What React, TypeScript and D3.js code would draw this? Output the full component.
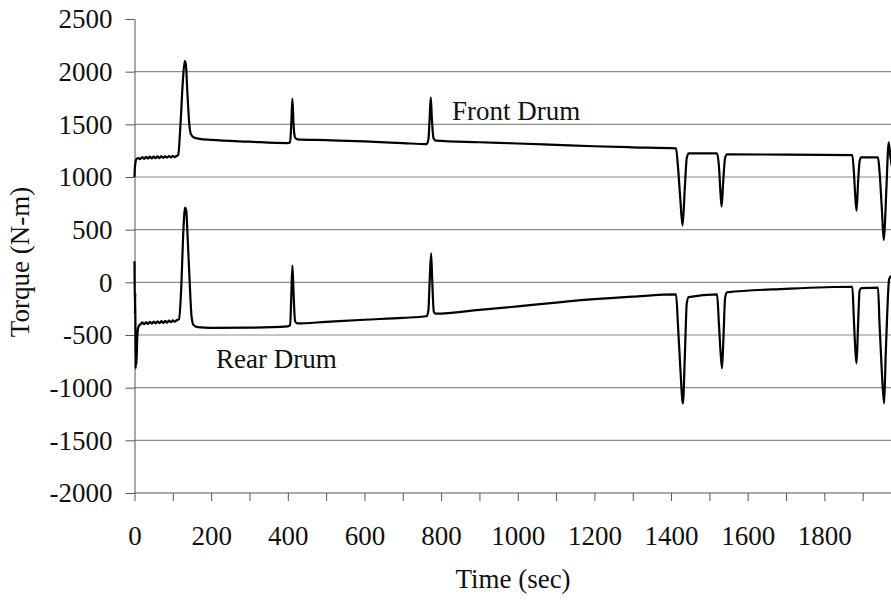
import React, { useEffect, useRef } from "react";
import * as d3 from "d3";

const frontTime = [
	0, 1, 3, 6, 10, 15, 20, 25, 30, 35, 40, 45, 50, 55, 60, 65, 70, 75, 80, 85, 90, 95, 100, 105, 110,
	114, 120, 126, 131, 134, 138, 143, 148, 155, 170, 200, 300, 400, 406, 409, 412, 415, 419, 425, 500,
	600, 700, 762, 767, 770, 773, 776, 780, 786, 900, 1000, 1100, 1200, 1300, 1413, 1418, 1424, 1430,
	1436, 1441, 1446, 1520, 1525, 1529, 1532, 1536, 1541, 1546, 1700, 1873, 1877, 1881, 1884, 1888,
	1892, 1896, 1940, 1944, 1950, 1955, 1958, 1962, 1968, 1972, 1978,
];
const frontTorque = [
	1000, 1090, 1150, 1175, 1180, 1170, 1190, 1172, 1192, 1175, 1193, 1176, 1194, 1178, 1195, 1180, 1196,
	1182, 1197, 1184, 1198, 1186, 1200, 1188, 1200, 1210, 1500, 1900, 2100, 2070, 1800, 1500, 1400, 1375,
	1362, 1352, 1335, 1322, 1330, 1500, 1745, 1500, 1375, 1358, 1350, 1338, 1322, 1312, 1360, 1550, 1755,
	1550, 1370, 1345, 1330, 1318, 1305, 1292, 1282, 1272, 1100, 800, 540, 900, 1180, 1225, 1225, 1100,
	850, 720, 950, 1180, 1215, 1212, 1208, 1050, 800, 680, 950, 1150, 1187, 1187, 1050, 700, 400, 550,
	900, 1330, 1200, 1060,
];

const rearTime = [
	0, 1, 2, 3, 4, 5, 7, 9, 12, 15, 20, 25, 30, 35, 40, 45, 50, 55, 60, 65, 70, 75, 80, 85, 90, 95, 100,
	105, 110, 116, 122, 127, 132, 135, 139, 144, 149, 154, 165, 200, 300, 400, 406, 409, 412, 415, 419,
	425, 500, 600, 700, 762, 767, 770, 774, 777, 781, 786, 900, 1000, 1100, 1200, 1300, 1413, 1418, 1424,
	1431, 1436, 1441, 1446, 1520, 1525, 1529, 1533, 1537, 1541, 1546, 1700, 1873, 1877, 1881, 1884, 1888,
	1892, 1896, 1940, 1944, 1950, 1956, 1960, 1964, 1969, 1975,
];
const rearTorque = [
	200, -300, -100, -820, -500, -780, -550, -440, -410, -400, -380, -398, -378, -395, -375, -392, -372,
	-390, -370, -388, -368, -385, -366, -382, -364, -378, -362, -374, -360, -350, -50, 450, 710, 680, 400,
	0, -330, -405, -425, -432, -430, -418, -405, -150, 160, -100, -370, -390, -375, -355, -337, -322, -260,
	0, 275, 0, -280, -298, -262, -228, -192, -160, -136, -114, -400, -800, -1150, -700, -200, -140, -115,
	-400, -650, -817, -500, -150, -95, -62, -42, -350, -650, -770, -400, -80, -55, -50, -400, -850, -1150,
	-700, -300, 30, 60,
];

const yTicks = [2500, 2000, 1500, 1000, 500, 0, -500, -1000, -1500, -2000];
const xTicks = d3.range(0, 2001, 100);

const W = 891;
const H = 601;
const FONT = "'Liberation Serif', 'Times New Roman', serif";

const App: React.FC = () => {
	const svgRef = useRef<SVGSVGElement | null>(null);

	useEffect(() => {
		const svg = d3.select(svgRef.current);
		svg.selectAll("*").remove();

		const x = d3.scaleLinear().domain([0, 2000]).range([134.5, 901]);
		const y = d3.scaleLinear().domain([-2000, 2500]).range([493, 19]);

		// horizontal grid
		svg.append("g")
			.selectAll("line")
			.data(yTicks.filter((d) => d > -2000 && d < 2500))
			.enter()
			.append("line")
			.attr("x1", x(0))
			.attr("x2", W)
			.attr("y1", (d) => y(d))
			.attr("y2", (d) => y(d))
			.attr("stroke", "#8c8c8c")
			.attr("stroke-width", 1.2);

		const xAxis = svg
			.append("g")
			.attr("transform", `translate(0,${y(-2000)})`)
			.call(
				d3
					.axisBottom(x)
					.tickValues(xTicks)
					.tickSize(8)
					.tickSizeOuter(0)
					.tickFormat((d) => ((d as number) % 200 === 0 && (d as number) < 2000 ? String(d) : ""))
			);
		xAxis.select(".domain").attr("stroke", "#555").attr("d", `M${x(0)},0H${W}`);
		xAxis.selectAll("line").attr("stroke", "#555");
		xAxis
			.selectAll("text")
			.attr("y", 52)
			.attr("dy", "0")
			.attr("font-family", FONT)
			.attr("font-size", 27)
			.attr("fill", "#111");

		const yAxis = svg
			.append("g")
			.attr("transform", `translate(${x(0)},0)`)
			.call(
				d3
					.axisLeft(y)
					.tickValues(yTicks)
					.tickSize(9)
					.tickSizeOuter(0)
					.tickPadding(13)
					.tickFormat((d) => String(d))
			);
		yAxis.select(".domain").attr("stroke", "#555");
		yAxis.selectAll("line").attr("stroke", "#555");
		yAxis
			.selectAll("text")
			.attr("font-family", FONT)
			.attr("font-size", 27)
			.attr("dy", "0.33em")
			.attr("fill", "#111");

		const line = d3
			.line<[number, number]>()
			.x((d) => x(d[0]))
			.y((d) => y(d[1]))
			.curve(d3.curveMonotoneX);

		const series = [
			frontTime.map((t, i) => [t, frontTorque[i]] as [number, number]),
			rearTime.map((t, i) => [t, rearTorque[i]] as [number, number]),
		];

		svg.append("g")
			.selectAll("path")
			.data(series)
			.enter()
			.append("path")
			.attr("d", (d) => line(d))
			.attr("fill", "none")
			.attr("stroke", "#000")
			.attr("stroke-width", 2.2)
			.attr("stroke-linejoin", "round");

		svg.append("text")
			.attr("x", 452)
			.attr("y", 120)
			.attr("font-family", FONT)
			.attr("font-size", 27)
			.attr("fill", "#111")
			.text("Front Drum");

		svg.append("text")
			.attr("x", 216)
			.attr("y", 368)
			.attr("font-family", FONT)
			.attr("font-size", 27)
			.attr("fill", "#111")
			.text("Rear Drum");

		svg.append("text")
			.attr("x", 513)
			.attr("y", 588)
			.attr("text-anchor", "middle")
			.attr("font-family", FONT)
			.attr("font-size", 27)
			.attr("fill", "#111")
			.text("Time (sec)");

		svg.append("text")
			.attr("transform", `translate(29,262) rotate(-90)`)
			.attr("text-anchor", "middle")
			.attr("font-family", FONT)
			.attr("font-size", 27)
			.attr("fill", "#111")
			.text("Torque (N-m)");
	}, []);

	return (
		<svg
			ref={svgRef}
			width={W}
			height={H}
			style={{ position: "absolute", left: 0, top: 0, background: "#fff" }}
		></svg>
	);
};

export default App;
